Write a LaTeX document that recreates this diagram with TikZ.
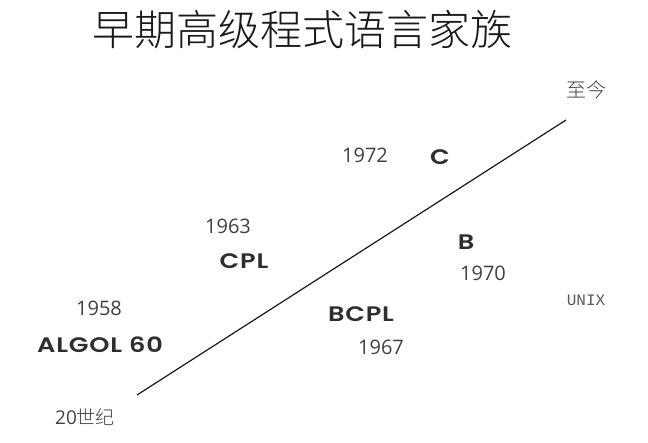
\documentclass[tikz,border=0pt]{standalone}
\usepackage{fontspec}
\setmainfont{Open Sans}
\newfontfamily\cjk{Noto Sans CJK SC}
\newfontfamily\cjklight{Noto Sans CJK SC Light}
\newfontfamily\pop{Poppins}[BoldFont={Poppins SemiBold}, BoldFeatures={FakeStretch=1.22, LetterSpace=4}]
\newfontfamily\monof{Liberation Mono}
\begin{document}
\begin{tikzpicture}[x=1pt,y=-1pt,
  every node/.style={inner sep=0pt,outer sep=0pt},
  year/.style={font=\fontsize{20}{24}\selectfont, text=black!75},
  lang/.style={font=\pop\bfseries\fontsize{21}{25}\selectfont, text=black!82},
  era/.style={font=\cjklight\fontsize{19}{22}\selectfont, text=black!75},
  axis/.style={draw=black!90, line width=1.2pt}]
\useasboundingbox (0,0) rectangle (648,442);
\node[font=\cjklight\fontsize{42}{48}\selectfont, text=black!90] (title) at (302,30) {早期高级程式语言家族};
\coordinate (start) at (137,395);
\coordinate (end) at (566,120);
\draw[axis] (start) -- (end);
\node[era, font=\cjklight\fontsize{20}{24}\selectfont] (now) at (586,90) {至今};
\node[era, font=\fontsize{19}{22}\selectfont] (c20) at (85,417) {20\cjklight 世纪};
\node[year] (y1972) at (365,155) {1972};
\node[lang] (C) at (440,157) {C};
\node[year] (y1963) at (228,226) {1963};
\node[lang] (CPL) at (244,261) {CPL};
\node[lang] (B) at (466,242) {B};
\node[year] (y1970) at (483,273) {1970};
\node[font=\monof\fontsize{16}{19}\selectfont, text=black!65] (unix) at (586,300) {UNIX};
\node[year] (y1958) at (99,308) {1958};
\node[lang] (algol) at (100,345) {ALGOL 60};
\node[lang] (bcpl) at (361,314) {BCPL};
\node[year] (y1967) at (381,347) {1967};
\end{tikzpicture}
\end{document}
